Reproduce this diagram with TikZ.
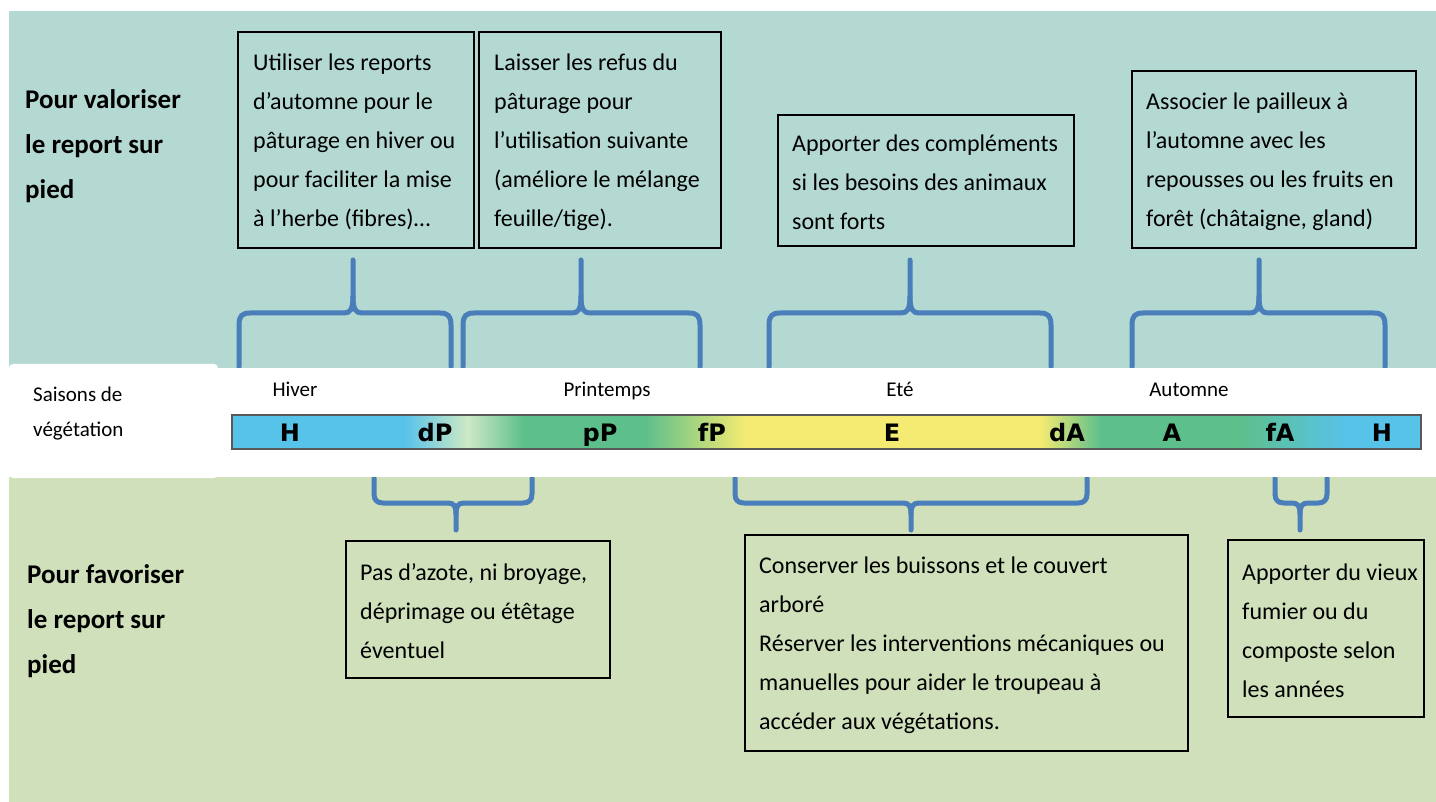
\documentclass[tikz,border=0pt]{standalone}
\usepackage{fontspec}
\setmainfont{Carlito}
\newfontfamily\barfont{DejaVu Sans}
\definecolor{topbg}{HTML}{B4D9D2}
\definecolor{botbg}{HTML}{CFE0BB}
\definecolor{bracecol}{HTML}{4A7EBB}
\definecolor{cblue}{HTML}{58C3E9}
\definecolor{cpale}{HTML}{CFE9C6}
\definecolor{cgreen}{HTML}{5DBF8C}
\definecolor{cyellow}{HTML}{F5EB72}
\tikzset{
  infobox/.style={draw=black, line width=2pt, rectangle, inner sep=0pt},
  boxtext/.style={anchor=west, inner sep=0pt, yshift=-2pt, align=left, font=\fontsize{24}{39}\selectfont},
  sidelbl/.style={anchor=west, inner sep=0pt, align=left, font=\fontsize{27}{45}\selectfont\bfseries},
  seasonlbl/.style={anchor=base, inner sep=0pt, font=\fontsize{21}{35}\selectfont},
  barlbl/.style={anchor=base, inner sep=0pt, font=\barfont\fontsize{24}{24}\selectfont\bfseries},
  bracepath/.style={draw=bracecol, line width=5pt, line cap=round, line join=round},
}
\newcommand\bracetop[4]{%
  \coordinate (#4) at (#2,260);
  \draw[bracepath] (#1,367) -- (#1,325) .. controls (#1,316) and (#1+3,313) .. (#1+11,313) -- (#2-9,313) .. controls (#2-3,313) and (#2,310) .. (#2,296) -- (#4);
  \draw[bracepath] (#2,296) .. controls (#2,310) and (#2+3,313) .. (#2+9,313) -- (#3-11,313) .. controls (#3-3,313) and (#3,316) .. (#3,325) -- (#3,367);}
\newcommand\bracebot[4]{%
  \coordinate (#4) at (#2,530);
  \draw[bracepath] (#1,478) -- (#1,494) .. controls (#1,500) and (#1+3,503) .. (#1+9,503) -- (#2-8,503) .. controls (#2-2,503) and (#2,506) .. (#2,514) -- (#4);
  \draw[bracepath] (#2,514) .. controls (#2,506) and (#2+2,503) .. (#2+8,503) -- (#3-9,503) .. controls (#3-3,503) and (#3,500) .. (#3,494) -- (#3,478);}
\begin{document}
\begin{tikzpicture}[x=1pt,y=-1pt]
\useasboundingbox (0,0) rectangle (1436,802);
\fill[white] (0,0) rectangle (1436,802);
\fill[topbg] (9,11) rectangle (1436,368);
\fill[botbg] (9,477) rectangle (1436,802);

% braces
\bracetop{239}{353}{451}{t1}
\bracetop{463}{581}{700}{t2}
\bracetop{769}{910}{1051}{t3}
\bracetop{1132}{1259}{1385}{t4}
\bracebot{374}{456}{532}{t5}
\bracebot{735}{911}{1087}{t6}
\bracebot{1275}{1300}{1327}{t7}

\fill[white] (9,368) rectangle (1436,477);
\fill[white, rounded corners=4pt] (9,364) rectangle (218,478);

% side labels
\node[sidelbl] (lab1) at (25,146) {Pour valoriser\\le report sur\\pied};
\node[sidelbl] (lab2) at (27,621) {Pour favoriser\\le report sur\\pied};
\node[anchor=west, inner sep=0pt, align=left, font=\fontsize{21}{35}\selectfont] (sais) at (33,414) {Saisons de\\végétation};

% seasons
\node[seasonlbl] (hiver) at (295,397) {Hiver};
\node[seasonlbl] (print) at (607,397) {Printemps};
\node[seasonlbl] (ete) at (900,397) {Eté};
\node[seasonlbl] (aut) at (1189,397) {Automne};

% colour bar
\fill[cblue] (232,415) rectangle (406,449);
\shade[left color=cblue, right color=cpale] (405,415) rectangle (468,449);
\shade[left color=cpale, right color=cgreen] (467,415) rectangle (524,449);
\fill[cgreen] (523,415) rectangle (646,449);
\shade[left color=cgreen, right color=cyellow] (645,415) rectangle (746,449);
\fill[cyellow] (745,415) rectangle (1041,449);
\shade[left color=cyellow, right color=cgreen] (1040,415) rectangle (1101,449);
\fill[cgreen] (1100,415) rectangle (1241,449);
\shade[left color=cgreen, right color=cblue] (1240,415) rectangle (1346,449);
\fill[cblue] (1345,415) rectangle (1421,449);
\node[draw=black!65, line width=2pt, inner sep=0pt, minimum width=1189pt, minimum height=34pt] (bar) at (826.5,432) {};

\node[barlbl] (mH1) at (290,441) {H};
\node[barlbl] (mdP) at (435,441) {dP};
\node[barlbl] (mpP) at (600,441) {pP};
\node[barlbl] (mfP) at (712,441) {fP};
\node[barlbl] (mE) at (892,441) {E};
\node[barlbl] (mdA) at (1067,441) {dA};
\node[barlbl] (mA) at (1172,441) {A};
\node[barlbl] (mfA) at (1280,441) {fA};
\node[barlbl] (mH2) at (1382,441) {H};

% boxes
\node[infobox, minimum width=236pt, minimum height=216pt] (b1) at (356,140) {};
\node[boxtext] at ([xshift=16pt]b1.west) {Utiliser les reports\\d’automne pour le\\pâturage en hiver ou\\pour faciliter la mise\\à l’herbe (fibres)…};

\node[infobox, minimum width=242pt, minimum height=216pt] (b2) at (600,140) {};
\node[boxtext] at ([xshift=16pt]b2.west) {Laisser les refus du\\pâturage pour\\l’utilisation suivante\\(améliore le mélange\\feuille/tige).};

\node[infobox, minimum width=296pt, minimum height=131pt] (b3) at (926,180.5) {};
\node[boxtext] at ([xshift=15pt]b3.west) {Apporter des compléments\\si les besoins des animaux\\sont forts};

\node[infobox, minimum width=284pt, minimum height=177pt] (b4) at (1274,159.5) {};
\node[boxtext] at ([xshift=15pt]b4.west) {Associer le pailleux à\\l’automne avec les\\repousses ou les fruits en\\forêt (châtaigne, gland)};

\node[infobox, minimum width=264pt, minimum height=137pt] (b5) at (478,609.5) {};
\node[boxtext] at ([xshift=15pt]b5.west) {Pas d’azote, ni broyage,\\déprimage ou étêtage\\éventuel};

\node[infobox, minimum width=443pt, minimum height=216pt] (b6) at (966.5,643) {};
\node[boxtext] at ([xshift=15pt]b6.west) {Conserver les buissons et le couvert\\arboré\\Réserver les interventions mécaniques ou\\manuelles pour aider le troupeau à\\accéder aux végétations.};

\node[infobox, minimum width=196pt, minimum height=177pt] (b7) at (1326,628.5) {};
\node[boxtext] at ([xshift=15pt]b7.west) {Apporter du vieux\\fumier ou du\\composte selon\\les années};
\end{tikzpicture}
\end{document}
